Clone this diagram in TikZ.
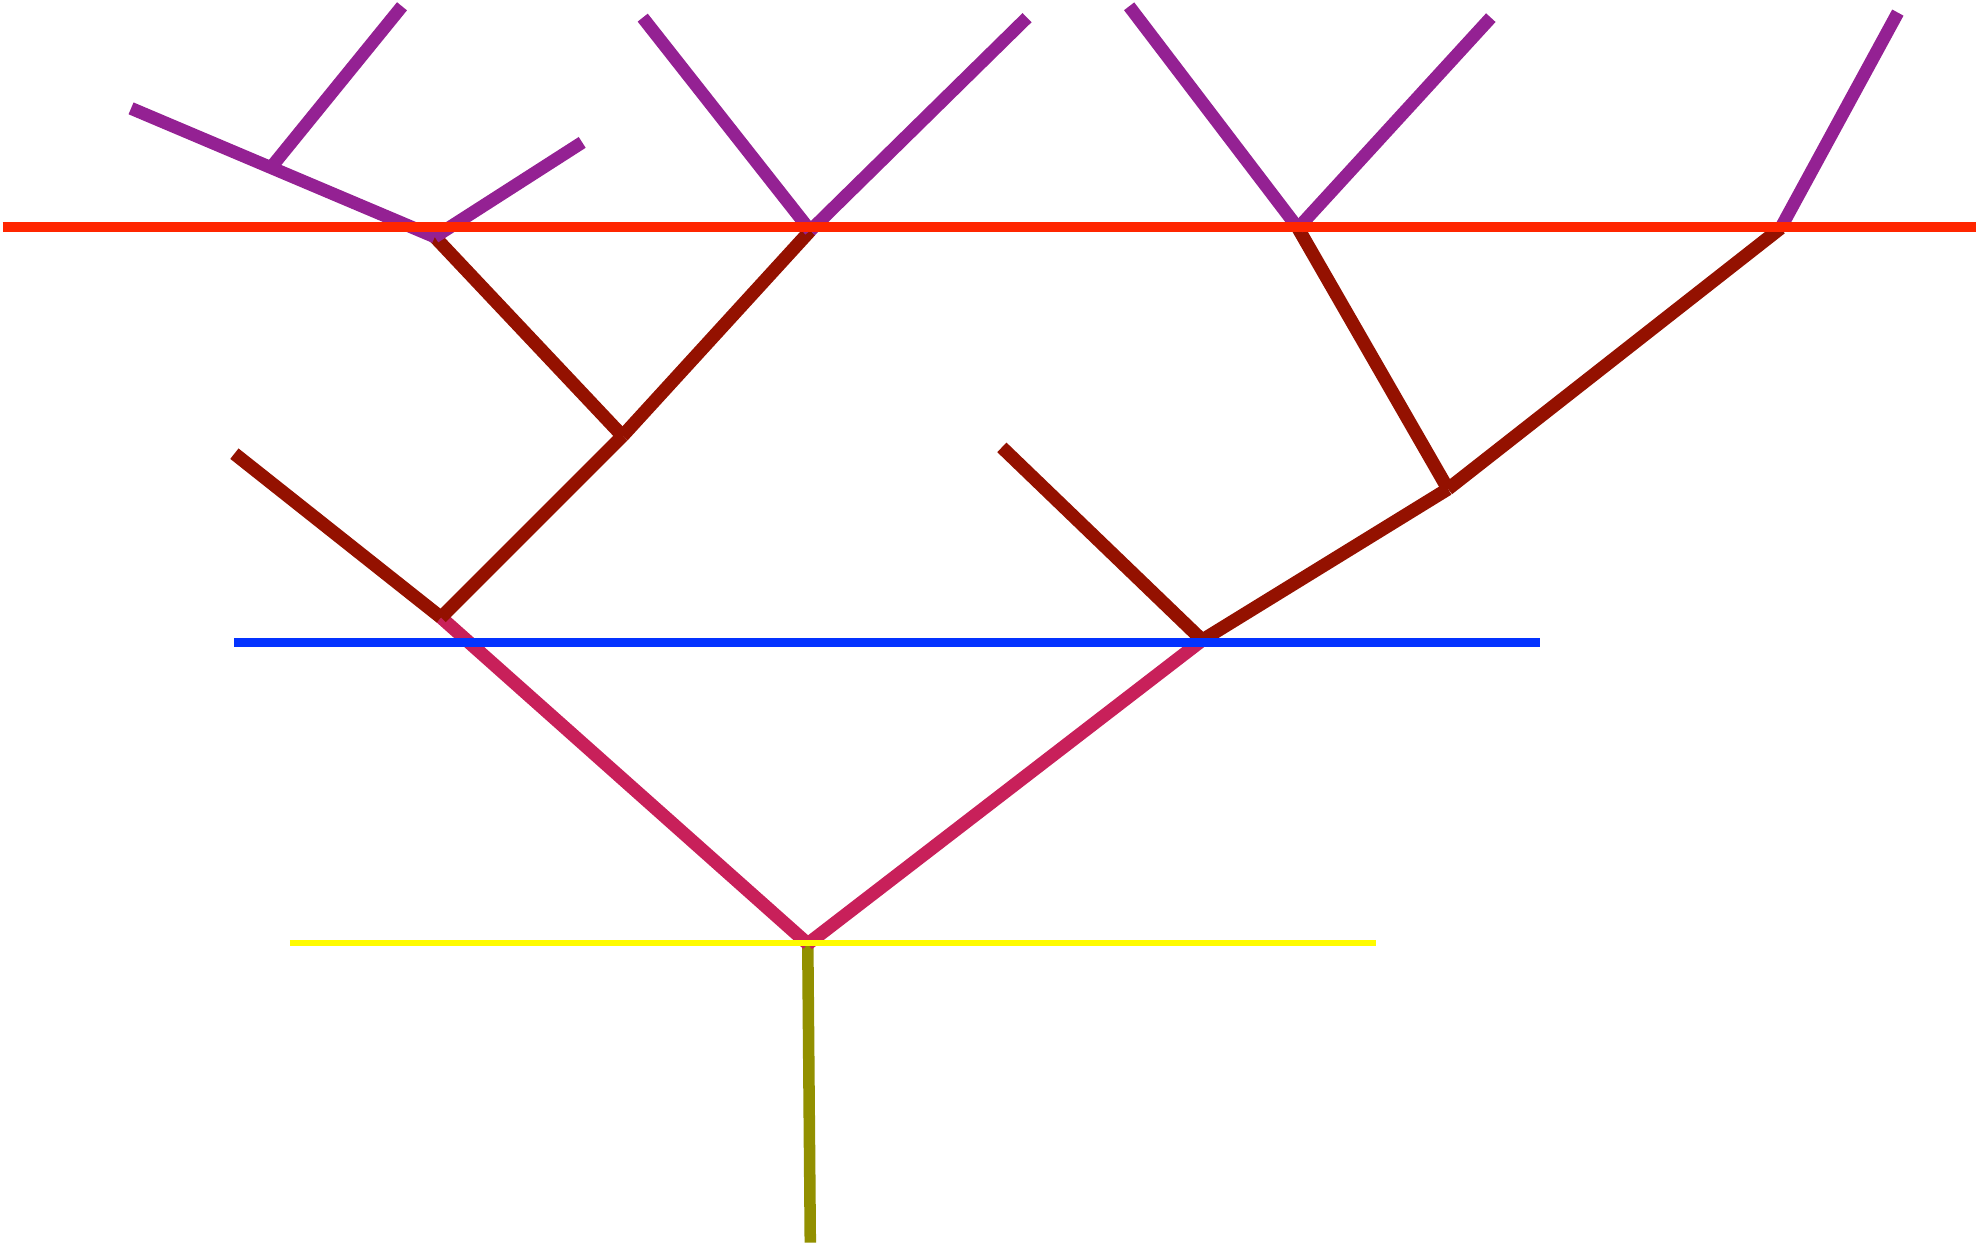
\documentclass[tikz,border=0pt]{standalone}
\usepackage{tikz}
\definecolor{plum}{HTML}{942193}
\definecolor{maroonred}{HTML}{941100}
\definecolor{brightred}{HTML}{FF2600}
\definecolor{rosered}{HTML}{C8205A}
\definecolor{levelblue}{HTML}{0433FF}
\definecolor{lemon}{HTML}{FFFB00}
\definecolor{olivetrunk}{HTML}{929000}
\begin{document}
\begin{tikzpicture}[
  x=0.01cm,y=-0.01cm,
  trunk/.style={draw=olivetrunk,line width=2.6pt},
  stem/.style={draw=rosered,line width=3pt},
  bough/.style={draw=maroonred,line width=3pt},
  twig/.style={draw=plum,line width=2.9pt},
  level/.style={line width=#1}
]
  \useasboundingbox (0,0) rectangle (1568,988);
  % levels
  \coordinate (yl) at (230,748);  \coordinate (yr) at (1092,748);
  \coordinate (bl) at (186,510);  \coordinate (br) at (1222,510);
  \coordinate (rl) at (2,180);    \coordinate (rr) at (1568,180);
  % forks
  \coordinate (base) at (643,986);
  \coordinate (root) at (641,749);
  \coordinate (lfork) at (350,490);
  \coordinate (rfork) at (954,508);
  \coordinate (lrfork) at (494,346);
  \coordinate (rrfork) at (1149,388);
  \coordinate (llend) at (186,360);
  \coordinate (rlend) at (795,355);
  \coordinate (ptop1) at (345,188);
  \coordinate (ptop2) at (643,183);
  \coordinate (ptop3) at (1030,181);
  \coordinate (ptop4) at (1413,181);
  \coordinate (pknot) at (215,133);
  % tips
  \coordinate (tip1) at (104,86);
  \coordinate (tip2) at (319,5);
  \coordinate (tip3) at (462,113);
  \coordinate (tip4) at (510,14);
  \coordinate (tip5) at (815,14);
  \coordinate (tip6) at (896,5);
  \coordinate (tip7) at (1183,14);
  \coordinate (tip8) at (1506,10);

  \draw[trunk] (base) -- (root);
  \draw[stem] (root) -- (lfork);
  \draw[stem] (root) -- (rfork);
  \draw[bough] (lfork) -- (llend);
  \draw[bough] (lfork) -- (lrfork);
  \draw[bough] (lrfork) -- (ptop1);
  \draw[bough] (lrfork) -- (ptop2);
  \draw[bough] (rfork) -- (rlend);
  \draw[bough] (rfork) -- (rrfork);
  \draw[bough] (rrfork) -- (ptop3);
  \draw[bough] (rrfork) -- (ptop4);
  \draw[twig] (ptop1) -- (tip1);
  \draw[twig] (pknot) -- (tip2);
  \draw[twig] (ptop1) -- (tip3);
  \draw[twig] (ptop2) -- (tip4);
  \draw[twig] (ptop2) -- (tip5);
  \draw[twig] (ptop3) -- (tip6);
  \draw[twig] (ptop3) -- (tip7);
  \draw[twig] (ptop4) -- (tip8);
  % horizontal lines
  \draw[level=1.4pt,draw=lemon] (yl) -- (yr);
  \draw[level=1.9pt,draw=levelblue] (bl) -- (br);
  \draw[level=2.4pt,draw=brightred] (rl) -- (rr);
\end{tikzpicture}
\end{document}
